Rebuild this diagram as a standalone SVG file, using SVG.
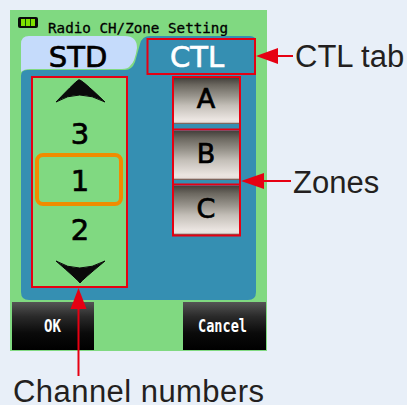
<svg xmlns="http://www.w3.org/2000/svg" width="407" height="405" viewBox="0 0 407 405">
<style>
.lab{font-family:"Liberation Sans",Arial,sans-serif;font-size:31px;fill:#231f20}
.big{font-family:"DejaVu Sans",sans-serif;font-size:29px;fill:#000;stroke:#000;stroke-width:.7;text-anchor:middle}
.mono{font-family:"DejaVu Sans Mono",monospace;fill:#000;stroke:#000;stroke-width:.3}
.btn{font-family:"DejaVu Sans Mono",monospace;font-size:17px;font-weight:bold;fill:#fff}
.red{fill:none;stroke:#e60012;stroke-width:2}
.ln{stroke:#e60012;stroke-width:2;fill:none}
.hd{fill:#e60012}
</style>
<defs>
<linearGradient id="z" x1="0" y1="0" x2="0" y2="1">
<stop offset="0" stop-color="#45413c"/><stop offset=".15" stop-color="#6b675f"/><stop offset=".4" stop-color="#9a968e"/><stop offset=".6" stop-color="#c4bfb8"/><stop offset=".9" stop-color="#ebe5e1"/><stop offset=".96" stop-color="#e8e0dc"/><stop offset="1" stop-color="#5a3a30"/>
</linearGradient>
<linearGradient id="b" x1="0" y1="0" x2="0" y2="1">
<stop offset="0" stop-color="#555"/><stop offset=".3" stop-color="#2a2a2a"/><stop offset=".65" stop-color="#0a0a0a"/><stop offset="1" stop-color="#000"/>
</linearGradient>
</defs>
<rect width="407" height="405" fill="#e8eff8"/>
<g id="screen">
<rect x="10" y="10" width="257" height="341" fill="#80d981"/>
<rect x="18" y="17" width="20" height="11" rx="2" fill="#0a0a0a"/>
<rect x="21" y="19" width="14" height="7" fill="#7fe000"/>
<path d="M25.500 19v7M30.500 19v7" stroke="#0a4a0a" stroke-width="1"/>
<text class="mono" x="48" y="33" font-size="14" textLength="180" lengthAdjust="spacingAndGlyphs">Radio CH/Zone Setting</text>
</g>
<g id="panel">
<path d="M21 76Q21 70 27 70H125Q132 70 135 62L140 44Q142 36 150 36H250Q256 36 256 42V292Q256 300 248 300H29Q21 300 21 292Z" fill="#358fb2"/>
</g>
<g id="tab-std">
<path d="M21 72V44Q21 36 29 36H125Q137 36 137 48Q135 62 130 66Q128 69 122 69H30Q24 69 21 72Z" fill="#c5dbfb"/>
<text class="big" x="78" y="67">STD</text>
</g>
<g id="tab-ctl">
<text class="big" x="197" y="67" style="fill:#fff;stroke:#fff">CTL</text>
<rect class="red" x="147.500" y="39" width="107.500" height="35"/>
</g>
<g id="channels">
<rect x="32" y="77" width="95" height="210" rx="2" fill="#80d981"/>
<path d="M56 102Q79 78 79 80Q80 78 105 102Q79 88 56 102Z" fill="#0a0a0a" stroke="#0a0a0a" stroke-width="1"/>
<text class="big" x="80" y="144">3</text>
<rect x="37" y="155" width="84" height="49" rx="6" fill="none" stroke="#f08c00" stroke-width="4"/>
<text class="big" x="80" y="191">1</text>
<text class="big" x="80" y="240">2</text>
<path d="M56 261Q79 275 105 261Q82 280 80 283Q78 280 56 261Z" fill="#0a0a0a" stroke="#0a0a0a" stroke-width="1"/>
<rect class="red" x="32" y="77" width="95" height="210"/>
</g>
<g id="zones">
<rect x="174" y="78" width="65" height="46" fill="url(#z)"/>
<rect x="174" y="131" width="65" height="49" fill="url(#z)"/>
<rect x="174" y="186" width="65" height="49" fill="url(#z)"/>
<text class="big" x="206" y="108" style="font-size:27px">A</text>
<text class="big" x="206" y="163" style="font-size:27px">B</text>
<text class="big" x="206" y="218" style="font-size:27px">C</text>
<rect class="red" x="173" y="77" width="67" height="158.500"/>
<path class="ln" d="M173 129.500H240M173 184.500H240"/>
</g>
<g id="btn-ok">
<rect x="12" y="302" width="82" height="48" fill="url(#b)"/>
<text class="btn" x="44" y="332" textLength="17" lengthAdjust="spacingAndGlyphs">OK</text>
</g>
<g id="btn-cancel">
<rect x="183" y="302" width="83" height="48" fill="url(#b)"/>
<text class="btn" x="198" y="332" textLength="49" lengthAdjust="spacingAndGlyphs">Cancel</text>
</g>
<g id="connectors">
<path class="ln" d="M278 56H293"/><path class="hd" d="M256 56L278 48V64Z"/>
<path class="ln" d="M264 181H291"/><path class="hd" d="M241 181L264 173V189Z"/>
<path class="ln" d="M78.500 309V376"/><path class="hd" d="M78.500 288L70.500 309H86.500Z"/>
</g>
<g id="labels">
<text class="lab" x="295" y="67">CTL tab</text>
<text class="lab" x="293" y="193">Zones</text>
<text class="lab" x="13" y="402" textLength="251" lengthAdjust="spacing">Channel numbers</text>
</g>
</svg>
